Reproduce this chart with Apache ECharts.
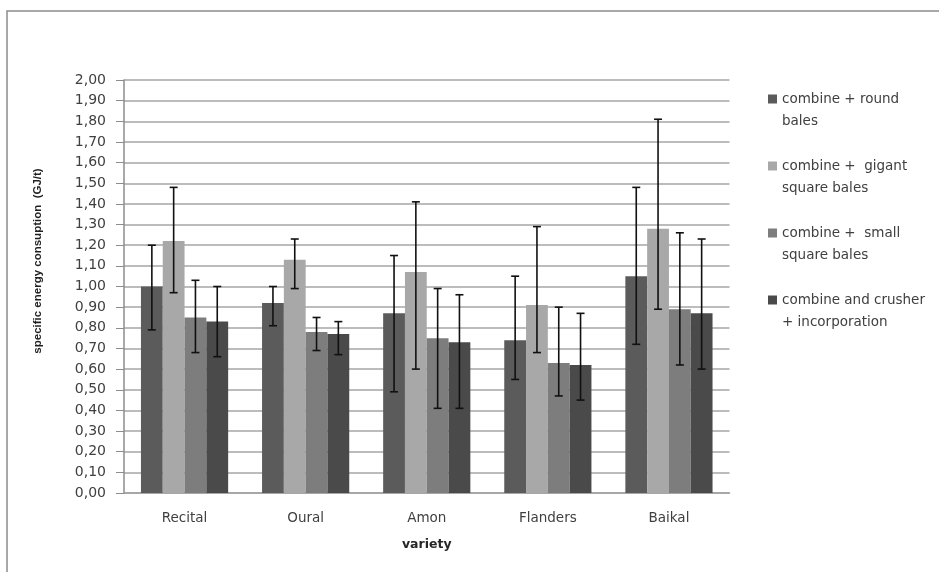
<!DOCTYPE html>
<html>
<head>
<meta charset="utf-8">
<script src="https://cdn.jsdelivr.net/npm/echarts@6/dist/echarts.min.js"></script>
<style>
html,body{margin:0;padding:0;background:#fff;}
#chart{width:939px;height:572px;}
</style>
</head>
<body>
<div id="chart"></div>
<script>
var categories = ['Recital', 'Oural', 'Amon', 'Flanders', 'Baikal'];
var seriesNames = [
  'combine + round\nbales',
  'combine +  gigant\nsquare bales',
  'combine +  small\nsquare bales',
  'combine and crusher\n+ incorporation'
];
var roundBales   = [1.00, 0.92, 0.87, 0.74, 1.05];
var gigantBales  = [1.22, 1.13, 1.07, 0.91, 1.28];
var smallBales   = [0.85, 0.78, 0.75, 0.63, 0.89];
var crusherInc   = [0.83, 0.77, 0.73, 0.62, 0.87];

var roundHigh   = [1.20, 1.00, 1.15, 1.05, 1.48];
var roundLow    = [0.79, 0.81, 0.49, 0.55, 0.72];
var gigantHigh  = [1.48, 1.23, 1.41, 1.29, 1.81];
var gigantLow   = [0.97, 0.99, 0.60, 0.68, 0.89];
var smallHigh   = [1.03, 0.85, 0.99, 0.90, 1.26];
var smallLow    = [0.68, 0.69, 0.41, 0.47, 0.62];
var crusherHigh = [1.00, 0.83, 0.96, 0.87, 1.23];
var crusherLow  = [0.66, 0.67, 0.41, 0.45, 0.60];

var yTickMin = 0, yTickMax = 2, yTickStep = 0.1;
var yAxisTitle = 'specific energy consuption  (GJ/t)';
var xAxisTitle = 'variety';

var values = [roundBales, gigantBales, smallBales, crusherInc];
var highs = [roundHigh, gigantHigh, smallHigh, crusherHigh];
var lows = [roundLow, gigantLow, smallLow, crusherLow];
var colors = ['#5b5b5b', '#a8a8a8', '#7d7d7d', '#4a4a4a'];
var catGap = 0.28;

var chart = echarts.init(document.getElementById('chart'), null, {renderer: 'canvas'});

var series = [];
values.forEach(function (vals, i) {
  series.push({
    name: seriesNames[i],
    type: 'bar',
    data: vals,
    barGap: '0%',
    barCategoryGap: (catGap * 100) + '%',
    itemStyle: {color: colors[i]},
    emphasis: {disabled: true}
  });
});
values.forEach(function (vals, i) {
  var errData = categories.map(function (c, k) { return [k, lows[i][k], highs[i][k]]; });
  series.push({
    type: 'custom',
    name: 'err' + i,
    data: errData,
    z: 10,
    silent: true,
    renderItem: function (params, api) {
      var k = api.value(0);
      var lo = api.coord([k, api.value(1)]);
      var hi = api.coord([k, api.value(2)]);
      var band = api.size([1, 0])[0];
      var bw = band * (1 - catGap) / 4;
      var x = lo[0] + (i - 1.5) * bw;
      var cap = 4;
      var st = {stroke: '#111111', lineWidth: 1.6};
      return {
        type: 'group',
        children: [
          {type: 'line', shape: {x1: x, y1: hi[1], x2: x, y2: lo[1]}, style: st},
          {type: 'line', shape: {x1: x - cap, y1: hi[1], x2: x + cap, y2: hi[1]}, style: st},
          {type: 'line', shape: {x1: x - cap, y1: lo[1], x2: x + cap, y2: lo[1]}, style: st}
        ]
      };
    }
  });
});

chart.setOption({
  animation: false,
  backgroundColor: '#ffffff',
  textStyle: {fontFamily: 'DejaVu Sans'},
  grid: {left: 124, right: 209.5, top: 80, bottom: 79, containLabel: false},
  legend: {
    data: seriesNames,
    orient: 'vertical',
    left: 763,
    top: 61,
    itemWidth: 9,
    itemHeight: 9,
    itemGap: 1,
    icon: 'rect',
    selectedMode: false,
    formatter: function (name) { return '\n' + name; },
    textStyle: {fontFamily: 'DejaVu Sans', fontSize: 13.5, color: '#404040', lineHeight: 22}
  },
  xAxis: {
    type: 'category',
    data: categories,
    axisLine: {lineStyle: {color: '#a0a0a0', width: 1.5}},
    axisTick: {show: false},
    axisLabel: {fontFamily: 'DejaVu Sans', fontSize: 13.5, color: '#404040', margin: 18},
    name: xAxisTitle,
    nameLocation: 'middle',
    nameGap: 45,
    nameTextStyle: {fontFamily: 'DejaVu Sans', fontWeight: 'bold', fontSize: 12.5, color: '#262626'}
  },
  yAxis: {
    type: 'value',
    min: yTickMin,
    max: yTickMax,
    interval: yTickStep,
    axisLine: {show: true, lineStyle: {color: '#8c8c8c', width: 1.5}},
    axisTick: {show: true, inside: false, length: 8, lineStyle: {color: '#8c8c8c'}},
    splitLine: {lineStyle: {color: '#a6a6a6', width: 1.5}},
    axisLabel: {
      fontFamily: 'DejaVu Sans', fontSize: 14, color: '#404040', margin: 18,
      formatter: function (v) { return v.toFixed(2).replace('.', ','); }
    }
  },
  graphic: [
    {
      type: 'rect', silent: true,
      shape: {x: 7, y: 11, width: 1200, height: 1000},
      style: {fill: 'none', stroke: '#8c8c8c', lineWidth: 1.5}
    },
    {
      type: 'text', silent: true,
      x: 38, y: 261, rotation: Math.PI / 2,
      style: {
        text: yAxisTitle, fontFamily: 'Liberation Sans', fontWeight: 'bold', fontSize: 11.5,
        fill: '#1f1f1f', align: 'center', verticalAlign: 'middle'
      }
    }
  ],
  series: series
});
</script>
</body>
</html>
